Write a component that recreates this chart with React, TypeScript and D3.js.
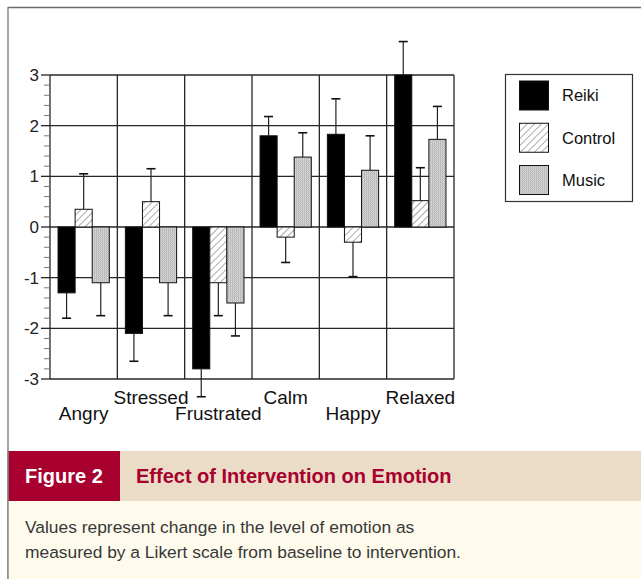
import React, { useEffect, useRef } from 'react';
import * as d3 from 'd3';

const categories = ['Angry', 'Stressed', 'Frustrated', 'Calm', 'Happy', 'Relaxed'];
const seriesNames = ['Reiki', 'Control', 'Music'];

const reikiValues = [-1.3, -2.1, -2.8, 1.8, 1.83, 3.0];
const controlValues = [0.35, 0.5, -1.1, -0.2, -0.3, 0.52];
const musicValues = [-1.1, -1.1, -1.5, 1.38, 1.12, 1.73];

const reikiErrors = [0.5, 0.55, 0.55, 0.38, 0.7, 0.66];
const controlErrors = [0.7, 0.65, 0.65, 0.5, 0.68, 0.65];
const musicErrors = [0.65, 0.65, 0.65, 0.48, 0.68, 0.65];

const yTicks = [-3, -2, -1, 0, 1, 2, 3];

const figureLabel = 'Figure 2';
const figureTitle = 'Effect of Intervention on Emotion';
const captionLines = [
  'Values represent change in the level of emotion as',
  'measured by a Likert scale from baseline to intervention.',
];

const W = 641, H = 579;

export default function App() {
  const svgRef = useRef<SVGSVGElement>(null);

  useEffect(() => {
    const svg = d3.select(svgRef.current);
    if (!svg.node()) return;
    svg.selectAll('*').remove();

    const font = 'Liberation Sans, Arial, sans-serif';
    const values = [reikiValues, controlValues, musicValues];
    const errors = [reikiErrors, controlErrors, musicErrors];
    const fills = ['#000', 'url(#hatch)', 'url(#grain)'];

    const rows = categories.flatMap((c, ci) =>
      seriesNames.map((s, si) => ({ cat: c, series: s, si, v: values[si][ci], e: errors[si][ci] }))
    );

    // patterns
    const defs = svg.append('defs');
    const hatch = defs.append('pattern')
      .attr('id', 'hatch')
      .attr('patternUnits', 'userSpaceOnUse')
      .attr('width', 5).attr('height', 5)
      .attr('patternTransform', 'rotate(45)');
    hatch.append('rect').attr('width', 5).attr('height', 5).attr('fill', '#fff');
    hatch.append('line').attr('x1', 0).attr('y1', 0).attr('x2', 0).attr('y2', 5)
      .attr('stroke', '#555').attr('stroke-width', 1);

    const grain = defs.append('pattern')
      .attr('id', 'grain')
      .attr('patternUnits', 'userSpaceOnUse')
      .attr('width', 2).attr('height', 2);
    grain.append('rect').attr('width', 2).attr('height', 2).attr('fill', '#dcdcdc');
    grain.append('rect').attr('width', 1).attr('height', 2).attr('fill', '#b4b4b4');
    grain.append('rect').attr('width', 2).attr('height', 1).attr('fill', '#c4c4c4');

    // page frame
    svg.append('rect').attr('width', W).attr('height', H).attr('fill', '#fff');
    svg.append('line').attr('x1', 8).attr('x2', W).attr('y1', 7.5).attr('y2', 7.5)
      .attr('stroke', '#6a6a6a').attr('stroke-width', 1.5);
    svg.append('line').attr('x1', 8).attr('x2', 8).attr('y1', 7).attr('y2', H)
      .attr('stroke', '#8a8a8a').attr('stroke-width', 1.5);

    // scales
    const x = d3.scaleBand().domain(categories).range([50, 454]).padding(0);
    const inner = d3.scaleBand().domain(seriesNames)
      .range([0, x.bandwidth()]).paddingOuter(0.47).paddingInner(0);
    const y = d3.scaleLinear().domain([-3, 3]).range([379, 75]);

    const g = svg.append('g');
    const gridColor = '#262626';

    // horizontal grid
    g.selectAll('line.hgrid').data(yTicks).join('line')
      .attr('class', 'hgrid')
      .attr('x1', 50).attr('x2', 454)
      .attr('y1', d => y(d)).attr('y2', d => y(d))
      .attr('stroke', gridColor).attr('stroke-width', 1.3);

    // vertical grid
    const bounds = categories.map(c => x(c)!).concat([x.range()[1]]);
    g.selectAll('line.vgrid').data(bounds).join('line')
      .attr('class', 'vgrid')
      .attr('x1', d => d).attr('x2', d => d)
      .attr('y1', y(3)).attr('y2', y(-3))
      .attr('stroke', gridColor).attr('stroke-width', 1.3);

    // y axis ticks
    const minor = d3.range(-3, 3.001, 0.2).filter(v => Math.abs(v - Math.round(v)) > 0.01);
    g.selectAll('line.minor').data(minor).join('line')
      .attr('class', 'minor')
      .attr('x1', 44).attr('x2', 50)
      .attr('y1', d => y(d)).attr('y2', d => y(d))
      .attr('stroke', '#777').attr('stroke-width', 1);
    g.selectAll('line.major').data(yTicks).join('line')
      .attr('class', 'major')
      .attr('x1', 41).attr('x2', 50)
      .attr('y1', d => y(d)).attr('y2', d => y(d))
      .attr('stroke', gridColor).attr('stroke-width', 1.3);
    g.selectAll('text.ylab').data(yTicks).join('text')
      .attr('class', 'ylab')
      .attr('x', 39).attr('y', d => y(d)).attr('dy', '0.35em')
      .attr('text-anchor', 'end')
      .attr('font-family', font).attr('font-size', 17).attr('fill', '#222')
      .text(d => d);

    // bars
    const barX = (d: any) => x(d.cat)! + inner(d.series)!;
    g.selectAll('rect.bar').data(rows).join('rect')
      .attr('class', 'bar')
      .attr('x', barX)
      .attr('y', d => y(Math.max(0, d.v)))
      .attr('width', inner.bandwidth())
      .attr('height', d => Math.abs(y(d.v) - y(0)))
      .attr('fill', d => fills[d.si])
      .attr('stroke', '#111').attr('stroke-width', 1);

    // error bars (one-sided, away from zero)
    const errEnd = (d: any) => d.v + Math.sign(d.v) * d.e;
    const cx = (d: any) => barX(d) + inner.bandwidth() / 2;
    g.selectAll('line.err').data(rows).join('line')
      .attr('class', 'err')
      .attr('x1', cx).attr('x2', cx)
      .attr('y1', d => y(d.v)).attr('y2', d => y(errEnd(d)))
      .attr('stroke', '#222').attr('stroke-width', 1.2);
    g.selectAll('line.cap').data(rows).join('line')
      .attr('class', 'cap')
      .attr('x1', d => cx(d) - 4.5).attr('x2', d => cx(d) + 4.5)
      .attr('y1', d => y(errEnd(d))).attr('y2', d => y(errEnd(d)))
      .attr('stroke', '#111').attr('stroke-width', 1.6);

    // category labels, staggered
    g.selectAll('text.cat').data(categories).join('text')
      .attr('class', 'cat')
      .attr('x', d => x(d)! + x.bandwidth() / 2)
      .attr('y', (_, i) => (i % 2 === 0 ? 420 : 404))
      .attr('text-anchor', 'middle')
      .attr('font-family', font).attr('font-size', 19).attr('fill', '#111')
      .text(d => d);

    // legend
    const leg = svg.append('g');
    leg.append('rect').attr('x', 505.5).attr('y', 74.5).attr('width', 127).attr('height', 127)
      .attr('fill', '#fff').attr('stroke', '#333').attr('stroke-width', 1.2);
    const ly = d3.scalePoint().domain(seriesNames).range([95.5, 180]);
    const item = leg.selectAll('g.item').data(seriesNames).join('g').attr('class', 'item');
    item.append('rect')
      .attr('x', 519.5).attr('y', d => ly(d)! - 14.5)
      .attr('width', 29).attr('height', 29)
      .attr('fill', (_, i) => fills[i])
      .attr('stroke', '#111').attr('stroke-width', 1);
    item.append('text')
      .attr('x', 562).attr('y', d => ly(d)!).attr('dy', '0.35em')
      .attr('font-family', font).attr('font-size', 16.5).attr('fill', '#111')
      .text(d => d);

    // caption
    const cap = svg.append('g');
    cap.append('rect').attr('x', 8).attr('y', 451).attr('width', W - 8).attr('height', 50).attr('fill', '#eadcc6');
    cap.append('rect').attr('x', 8).attr('y', 451).attr('width', 112).attr('height', 50).attr('fill', '#a8002f');
    cap.append('rect').attr('x', 8).attr('y', 501).attr('width', W - 8).attr('height', H - 501).attr('fill', '#fefbed');
    cap.append('line').attr('x1', 8).attr('x2', 8).attr('y1', 451).attr('y2', H)
      .attr('stroke', '#8a8a8a').attr('stroke-width', 1.5);
    cap.append('text').attr('x', 25).attr('y', 483)
      .attr('font-family', font).attr('font-weight', 'bold').attr('font-size', 20).attr('fill', '#fff')
      .text(figureLabel);
    cap.append('text').attr('x', 136).attr('y', 483)
      .attr('font-family', font).attr('font-weight', 'bold').attr('font-size', 20).attr('fill', '#a8002f')
      .text(figureTitle);
    cap.selectAll('text.line').data(captionLines).join('text')
      .attr('class', 'line')
      .attr('x', 25).attr('y', (_, i) => 533 + i * 24.5)
      .attr('font-family', font).attr('font-size', 17.4).attr('fill', '#383838')
      .text(d => d);
  }, []);

  return (
    <svg ref={svgRef} width={W} height={H}
      style={{ position: 'absolute', left: 0, top: 0, display: 'block' }} />
  );
}
